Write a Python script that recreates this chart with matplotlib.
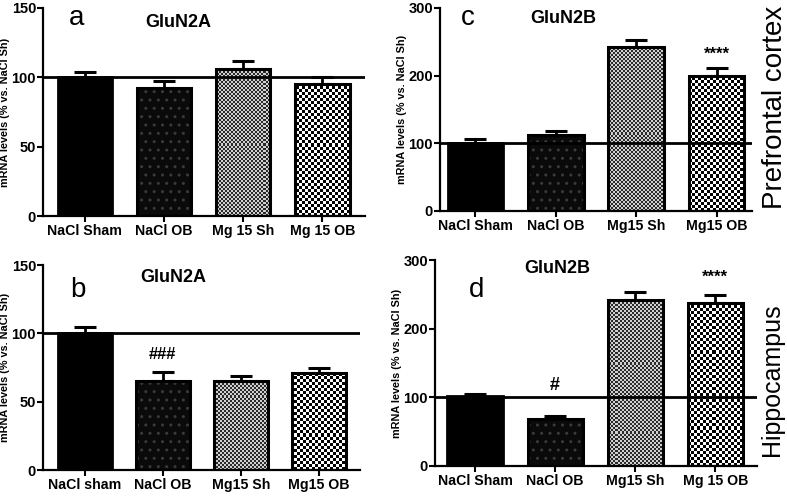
import numpy as np
import matplotlib.pyplot as plt
from matplotlib.colors import ListedColormap

plt.rcParams['font.family'] = ['Liberation Sans', 'DejaVu Sans']

# datos
labels_a = ["NaCl Sham", "NaCl OB", "Mg 15 Sh", "Mg 15 OB"]
labels_b = ["NaCl sham", "NaCl OB", "Mg15 Sh", "Mg15 OB"]
labels_c = ["NaCl Sham", "NaCl OB", "Mg15 Sh", "Mg15 OB"]
labels_d = ["NaCl Sham", "NaCl OB", "Mg15 Sh", "Mg 15 OB"]

vals_a = [100, 92, 106, 95]
err_a = [4, 5, 6, 5]
vals_b = [100, 65, 65, 71]
err_b = [5, 7, 4, 4]
vals_c = [100, 113, 242, 200]
err_c = [7, 5, 11, 11]
vals_d = [102, 68, 242, 238]
err_d = [3, 5, 11, 11]

fig = plt.figure(figsize=(7.87, 4.96), dpi=100)


def checker(ax, bar, cell, c1, c2):
    # patron de cuadros recortado a la barra
    w, h = ax.bbox.width, ax.bbox.height
    nx, ny = int(w / cell), int(h / cell)
    yy, xx = np.mgrid[0:ny, 0:nx]
    img = ((xx + yy) % 2).astype(float)
    x0, x1 = ax.get_xlim()
    y0, y1 = ax.get_ylim()
    im = ax.imshow(img, extent=(x0, x1, y0, y1), cmap=ListedColormap([c1, c2]),
                   interpolation='nearest', aspect='auto', zorder=1.5)
    im.set_clip_path(bar)
    ax.set_xlim(x0, x1)
    ax.set_ylim(y0, y1)


def panel(rect, labels, vals, errs, ymax, step, xlim, letter, letter_pos, title, title_pos):
    ax = fig.add_axes(rect)
    x = np.arange(4)
    ax.set_xlim(*xlim)
    ax.set_ylim(0, ymax)
    bars = ax.bar(x, vals, width=0.69, color=['black', '#0a0a0a', 'none', 'none'],
                  edgecolor='black', linewidth=2, zorder=2)
    bars[1].set_hatch('..')
    bars[1].set_edgecolor('#3a3a3a')
    bars[1].set_linewidth(0)
    checker(ax, bars[2], 2, '#2a2a2a', '#d0d0d0')
    checker(ax, bars[3], 3, 'black', 'white')
    ax.bar(x[1:], vals[1:], width=0.69, color='none', edgecolor='black', linewidth=2.2, zorder=3)
    ax.errorbar(x, vals, yerr=[[0] * 4, errs], fmt='none', ecolor='black',
                elinewidth=2, capsize=8, capthick=2.2, zorder=1)
    ax.axhline(100, color='black', linewidth=2, zorder=4)
    for s in ['top', 'right']:
        ax.spines[s].set_visible(False)
    ax.spines['left'].set_linewidth(1.6)
    ax.spines['bottom'].set_linewidth(1.6)
    ax.set_yticks(np.arange(0, ymax + 1, step))
    ax.set_xticks(x)
    ax.set_xticklabels(labels, fontsize=10.2, fontweight='bold')
    ax.tick_params(axis='y', labelsize=10.5, width=1.5, length=4, pad=1)
    ax.tick_params(axis='x', width=1.5, length=4, pad=2)
    for t in ax.get_yticklabels():
        t.set_fontweight('bold')
    ax.set_ylabel("mRNA levels (% vs. NaCl Sh)", fontsize=7.8, fontweight='bold', labelpad=1)
    ax.text(letter_pos[0], letter_pos[1], letter, transform=ax.transAxes, fontsize=20,
            ha='center', va='center')
    ax.text(title_pos[0], title_pos[1], title, transform=ax.transAxes, fontsize=13,
            fontweight='bold', ha='center', va='center')
    return ax


ax_a = panel([0.0546, 0.5645, 0.4092, 0.4194], labels_a, vals_a, err_a, 150, 50,
             (-0.53, 3.54), 'a', (0.105, 0.95), 'GluN2A', (0.42, 0.93))
ax_b = panel([0.0546, 0.0524, 0.4028, 0.4133], labels_b, vals_b, err_b, 150, 50,
             (-0.54, 3.53), 'b', (0.11, 0.88), 'GluN2A', (0.41, 0.94))
ax_c = panel([0.5591, 0.5746, 0.3964, 0.4093], labels_c, vals_c, err_c, 300, 100,
             (-0.44, 3.44), 'c', (0.09, 0.95), 'GluN2B', (0.394, 0.95))
ax_d = panel([0.5527, 0.0605, 0.4092, 0.4153], labels_d, vals_d, err_d, 300, 100,
             (-0.5, 3.52), 'd', (0.13, 0.855), 'GluN2B', (0.38, 0.96))

ax_b.text(1, vals_b[1] + err_b[1] + 9, '###', ha='center', fontsize=12, fontweight='bold')
ax_c.text(3, vals_c[3] + err_c[3] + 14, '****', ha='center', fontsize=12, fontweight='bold')
ax_d.text(1, vals_d[1] + err_d[1] + 38, '#', ha='center', fontsize=13, fontweight='bold')
ax_d.text(3, vals_d[3] + err_d[3] + 20, '****', ha='center', fontsize=12, fontweight='bold')

fig.text(0.985, 0.784, 'Prefrontal cortex', rotation=90, fontsize=20, ha='center', va='center')
fig.text(0.981, 0.234, 'Hippocampus', rotation=90, fontsize=18, ha='center', va='center')

fig.savefig('out.png', dpi=100)
